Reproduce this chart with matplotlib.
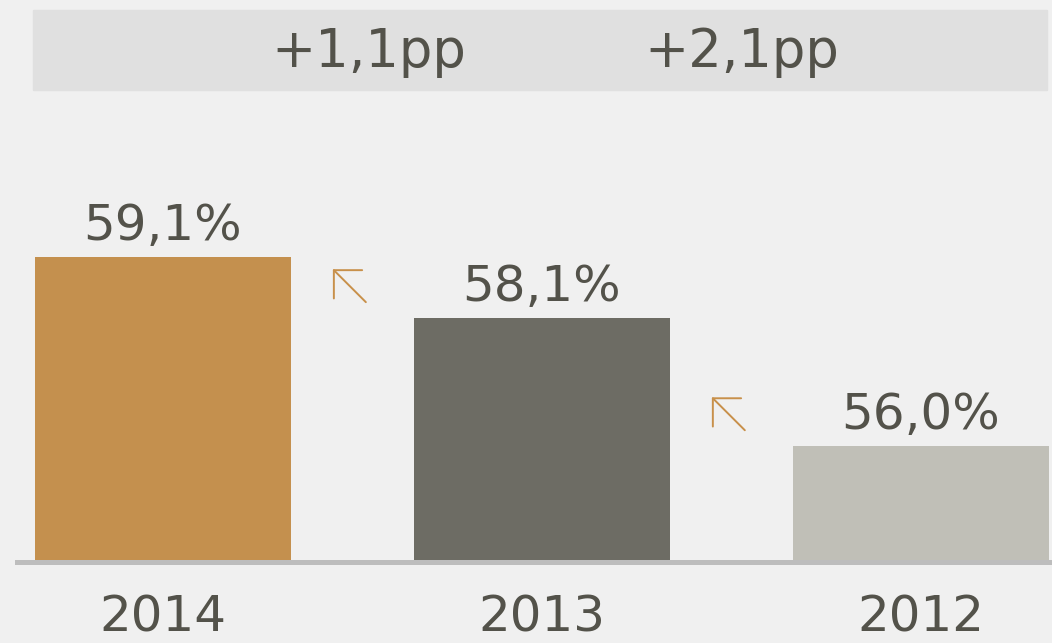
import matplotlib.pyplot as plt
from matplotlib.patches import Rectangle

years = ["2014", "2013", "2012"]
values = [59.1, 58.1, 56.0]
deltas = ["+1,1pp", "+2,1pp"]
colors = ["#c4904e", "#6d6c64", "#c0bfb7"]

txt = "#53524a"
bg = "#f0f0f0"

fig = plt.figure(figsize=(10.52, 6.43), dpi=100, facecolor=bg)
ax = fig.add_axes([17 / 1052, 81 / 643, 1 - 17 / 1052, 462 / 643])
ax.set_facecolor(bg)

x = list(range(len(years)))
ax.bar(x, values, width=0.675, color=colors, bottom=0)
ax.set_xlim(-0.385, 2.346)
ax.set_ylim(54.1, 54.1 + 462 / 61)

for xi, v in zip(x, values):
    ax.annotate(f"{v:.1f}%".replace(".", ","), (xi, v), xytext=(0, 12),
                textcoords="offset points", ha="center", va="baseline",
                fontsize=36, color=txt)

# arrows between bars
for i in range(len(values) - 1):
    xm = (x[i] + x[i + 1]) / 2 - 0.008
    ym = values[i + 1] + 0.53
    ax.annotate("", xy=(xm - 0.0435, ym + 0.27), xytext=(xm + 0.0435, ym - 0.27),
                arrowprops=dict(arrowstyle="->,head_length=0.4,head_width=0.4",
                                color="#c8904a", lw=1.4, mutation_scale=36,
                                shrinkA=0, shrinkB=0))

for s in ["top", "right", "left"]:
    ax.spines[s].set_visible(False)
ax.spines["bottom"].set_color("#bdbdbd")
ax.spines["bottom"].set_linewidth(3.6)
ax.set_yticks([])
ax.set_xticks(x)
ax.set_xticklabels(years, fontsize=36, color=txt)
ax.tick_params(axis="x", length=0, pad=23)

# top band with deltas
fig.patches.append(Rectangle((33 / 1052, 1 - 90 / 643), 1014 / 1052, 80 / 643,
                             transform=fig.transFigure, color="#e0e0e0", zorder=0))
for d, px in zip(deltas, [369, 742]):
    fig.text(px / 1052, 1 - 52 / 643, d, ha="center", va="center",
             fontsize=38, color=txt)

fig.savefig("out.png", dpi=100, facecolor=bg)
